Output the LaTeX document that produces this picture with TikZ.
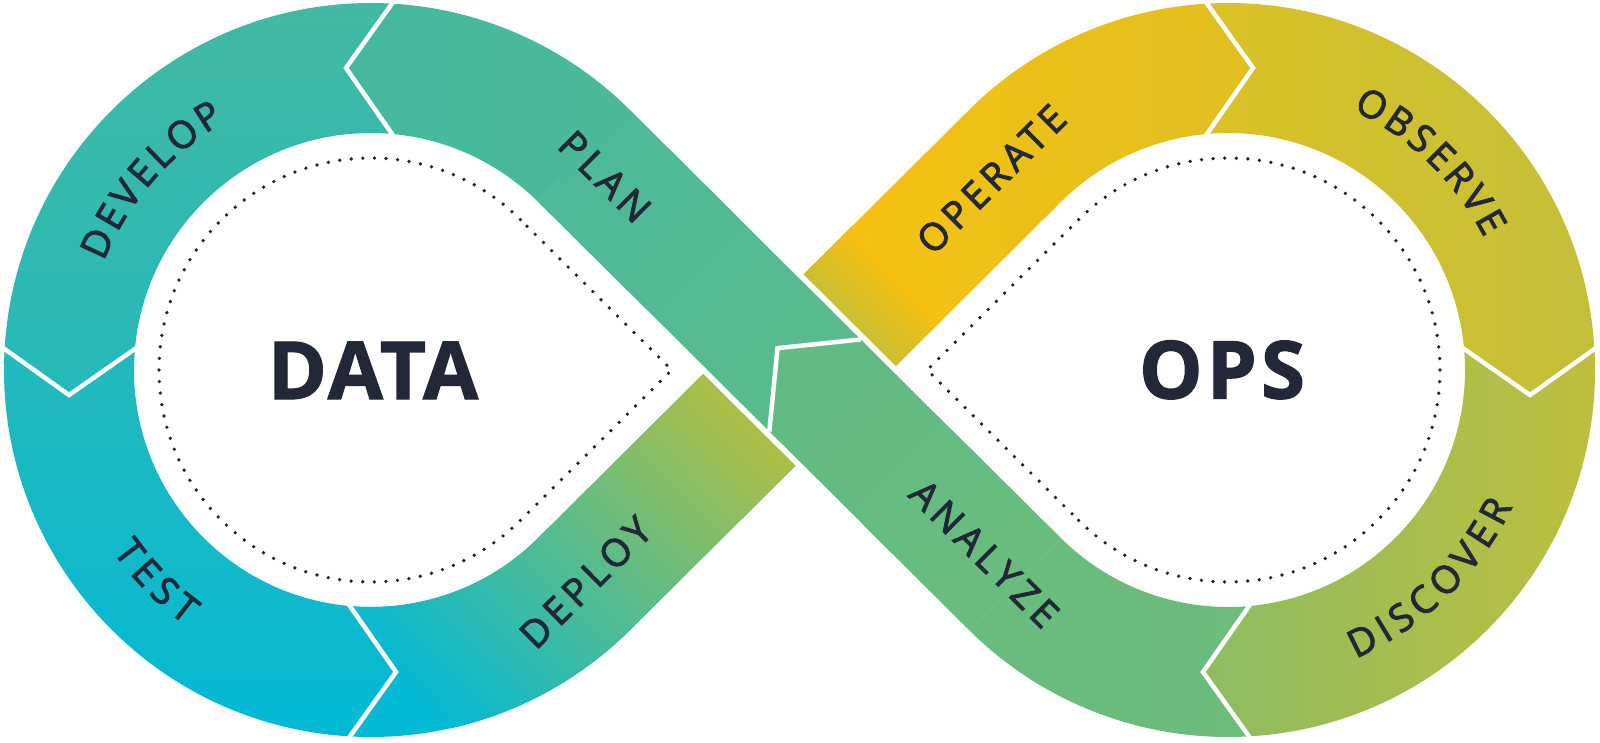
\documentclass[tikz,border=0pt]{standalone}
\usepackage{fontspec}
\setmainfont{Open Sans}
\newfontfamily\lblfont{Open Sans}[FakeBold=2.5,LetterSpace=13.6]
\newfontfamily\arcfont{Open Sans}[FakeBold=2.5]
\newfontfamily\bigfont{Open Sans}[BoldFeatures={FakeBold=1.5},LetterSpace=5]
\newfontfamily\datafont{Open Sans}[BoldFeatures={FakeBold=1.5},LetterSpace=3]
\usetikzlibrary{calc}
\definecolor{ink}{HTML}{232838}
\definecolor{dotc}{HTML}{1E2230}
\definecolor{cPa0}{HTML}{44B9A0}
\definecolor{cPa1}{HTML}{4BB999}
\definecolor{cDv0}{HTML}{43B9A1}
\definecolor{cDv1}{HTML}{24B9BA}
\definecolor{cTs0}{HTML}{23B9BB}
\definecolor{cTs1}{HTML}{02B9D5}
\definecolor{cDep0}{HTML}{03B9D4}
\definecolor{cDep1}{HTML}{B7BF3C}
\definecolor{cOpG}{HTML}{C5BE34}
\definecolor{cOp}{HTML}{F9C00F}
\definecolor{cOp0}{HTML}{FBC10D}
\definecolor{cOp1}{HTML}{F6C011}
\definecolor{cOp2}{HTML}{E0C021}
\definecolor{cObs0}{HTML}{DBC125}
\definecolor{cObs1}{HTML}{C3BF39}
\definecolor{cDis0}{HTML}{8CBD61}
\definecolor{cDis1}{HTML}{C0BE3C}
\definecolor{cAnA0}{HTML}{68BC7E}
\definecolor{cAnA1}{HTML}{6CBC7B}
\definecolor{cPl0}{HTML}{4BB999}
\definecolor{cPl1}{HTML}{5ABB8B}
\definecolor{cAn0}{HTML}{60BB85}
\definecolor{cAn1}{HTML}{69BC7D}
\tikzset{
  lbl/.style={inner sep=0pt, text height=27pt, text depth=0pt, anchor=center, text=ink, font=\lblfont\fontsize{38}{38}\selectfont},
  arcl/.style={inner sep=0pt, text height=27pt, text depth=0pt, anchor=center, text=ink, font=\arcfont\fontsize{38}{38}\selectfont},
  big/.style={inner sep=0pt, text height=57pt, text depth=0pt, anchor=center, text=ink, font=\bigfont\bfseries\fontsize{80}{80}\selectfont},
  bigdata/.style={big, font=\datafont\bfseries\fontsize{80}{80}\selectfont},
  chev/.style={draw=white, line width=4.5pt, line join=miter, shorten <=-3pt, shorten >=-3pt},
  gapline/.style={draw=white, line width=5.5pt},
  dots/.style={draw=dotc, line width=3.7pt, line cap=round, dash pattern=on 0pt off 11.6pt},
}
\begin{document}
\begin{tikzpicture}[x=1pt,y=1pt]
\useasboundingbox (0,0) rectangle (1600,-742);
\fill[white] (0,0) rectangle (1600,-742);
\coordinate (L) at (371,-370);
\coordinate (R) at (1228,-370);
\coordinate (M) at (799.5,-370);
\def\ph{45.188}
\def\RO{367}
\def\RI{237}

% PLAN arc (ends with arrow tip at the top chevron)
\shade[left color=cPa0, right color=cPa1]
  ($(L)+(\ph:\RO)$) arc[start angle=\ph, end angle=86.72, radius=\RO]
  -- ($(L)+(-25,302)$) -- ($(L)+(84.92:\RI)$)
  arc[start angle=84.92, end angle=\ph, radius=\RI] -- cycle;
% DEVELOP
\shade[top color=cDv0, bottom color=cDv1]
  ($(L)+(86.72:\RO)$) arc[start angle=86.72, end angle=176.72, radius=\RO]
  -- ($(L)+(-302,-25)$) -- ($(L)+(174.92:\RI)$)
  arc[start angle=174.92, end angle=84.92, radius=\RI] -- ($(L)+(-25,302)$) -- cycle;
% TEST
\shade[top color=cTs0, bottom color=cTs1]
  ($(L)+(176.72:\RO)$) arc[start angle=176.72, end angle=266.72, radius=\RO]
  -- ($(L)+(25,-302)$) -- ($(L)+(264.92:\RI)$)
  arc[start angle=264.92, end angle=174.92, radius=\RI] -- ($(L)+(-302,-25)$) -- cycle;

% DEPLOY
\begin{scope}
\clip ($(L)+(266.72:\RO)$) arc[start angle=266.72, end angle=314.812, radius=\RO]
  -- (845.31,-416.11) -- (753.69,-323.89)
  -- ($(L)+(314.812:\RI)$) arc[start angle=314.812, end angle=264.92, radius=\RI]
  -- ($(L)+(25,-302)$) -- cycle;
\fill[cDep0] (0,0) rectangle (1600,-742);
\shade[left color=cDep0, right color=cDep1, transform canvas={rotate around={44.812:(M)}}]
  ($(M)+(-500,-250)$) rectangle ($(M)+(-45,250)$);
\end{scope}

% OPERATE (straight part and arc, one piece)
\begin{scope}
\clip (753.69,-323.89) -- ($(R)+(134.812:\RO)$)
  arc[start angle=134.812, end angle=93.28, radius=\RO]
  -- ($(R)+(25,302)$) -- ($(R)+(95.08:\RI)$)
  arc[start angle=95.08, end angle=134.812, radius=\RI] -- (845.31,-416.11) -- cycle;
\shade[left color=cOp0, middle color=cOp1, right color=cOp2] (753,0) rectangle (1254,-420);
\shade[left color=cOpG, right color=cOp, transform canvas={rotate around={44.812:(M)}}]
  ($(M)+(62,-120)$) rectangle ($(M)+(140,120)$);
\end{scope}
% OBSERVE
\shade[left color=cObs0, right color=cObs1]
  ($(R)+(93.28:\RO)$) arc[start angle=93.28, end angle=3.28, radius=\RO]
  -- ($(R)+(302,-25)$) -- ($(R)+(5.08:\RI)$)
  arc[start angle=5.08, end angle=95.08, radius=\RI] -- ($(R)+(25,302)$) -- cycle;
% DISCOVER
\shade[left color=cDis0, right color=cDis1]
  ($(R)+(3.28:\RO)$) arc[start angle=3.28, end angle=-86.72, radius=\RO]
  -- ($(R)+(-25,-302)$) -- ($(R)+(-84.92:\RI)$)
  arc[start angle=-84.92, end angle=5.08, radius=\RI] -- ($(R)+(302,-25)$) -- cycle;
% ANALYZE arc
\shade[left color=cAnA0, right color=cAnA1]
  ($(R)+(-86.72:\RO)$) arc[start angle=-86.72, end angle=-134.812, radius=\RO]
  -- ($(R)+(-134.812:\RI)$) arc[start angle=-134.812, end angle=-84.92, radius=\RI]
  -- ($(R)+(-25,-302)$) -- cycle;

% PLAN straight (on top of the crossing)
\begin{scope}
\clip ($(L)+(\ph:\RO)$) -- (860.92,-339.40) -- (777.51,-348.15) -- (769.30,-431.62) -- ($(L)+(\ph:\RI)$) -- cycle;
\shade[left color=cPl0, right color=cPl1, transform canvas={rotate around={-44.812:(M)}}]
  ($(M)+(-310,-80)$) rectangle ($(M)+(25,80)$);
\end{scope}
% ANALYZE straight
\begin{scope}
\clip (860.92,-339.40) -- ($(R)+(-134.812:\RI)$) -- ($(R)+(-134.812:\RO)$) -- (769.30,-431.62) -- (777.51,-348.15) -- cycle;
\shade[left color=cAn0, right color=cAn1, transform canvas={rotate around={-44.812:(M)}}]
  ($(M)+(-35,-80)$) rectangle ($(M)+(310,80)$);
\end{scope}

% white gaps at the crossing (just outside the crossing band)
\draw[gapline] (740.84,-216.22) -- (953.66,-427.66);
\draw[gapline] (645.34,-312.34) -- (858.16,-523.78);

% chevrons
\draw[chev] ($(L)+(21,366.4)$) -- ($(L)+(-25,302)$) -- ($(L)+(21,236.1)$);
\draw[chev] ($(L)+(-366.4,21)$) -- ($(L)+(-302,-25)$) -- ($(L)+(-236.1,21)$);
\draw[chev] ($(L)+(-21,-366.4)$) -- ($(L)+(25,-302)$) -- ($(L)+(-21,-236.1)$);
\draw[chev] ($(R)+(-21,366.4)$) -- ($(R)+(25,302)$) -- ($(R)+(-21,236.1)$);
\draw[chev] ($(R)+(366.4,21)$) -- ($(R)+(302,-25)$) -- ($(R)+(236.1,21)$);
\draw[chev] ($(R)+(21,-366.4)$) -- ($(R)+(-25,-302)$) -- ($(R)+(21,-236.1)$);
\draw[draw=white, line width=4.5pt, line join=miter] (860.92,-339.40) -- (777.51,-348.15) -- (769.30,-431.62);

% dotted teardrops
\draw[dots] ($(L)+(\ph:212)$) arc[start angle=\ph, end angle=314.812, radius=212] -- (671.8,-370) -- cycle;
\draw[dots] ($(R)+(-134.812:212)$) arc[start angle=-134.812, end angle=134.812, radius=212] -- (927.2,-370) -- cycle;

% centre words
\node[bigdata] (data) at (373,-370.5) {DATA};
\node[big] (ops) at (1222,-370) {OPS};

% straight labels
\node[lbl, rotate=-44.812] (plan) at (604.8,-176.6) {PLAN};
\node[lbl, rotate=-44.812] (analyze) at (984.3,-553.6) {ANALYZE};
\node[lbl, rotate=44.812] (deploy) at (585.6,-582.5) {DEPLOY};
\node[lbl, rotate=44.812] (operate) at (991.4,-179.3) {OPERATE};

% curved labels
\foreach \ch/\o [count=\i] in {D/-15.93,E/-10.29,V/-5.17,E/-0.05,L/4.81,O/10.46,P/16.42}
  \node[arcl, rotate={139.2-\o-90}] (dev\i) at ($(L)+({139.2-\o}:302)$) {\ch};
\foreach \ch/\o [count=\i] in {T/-7.51,E/-2.49,S/2.51,T/7.51}
  \node[arcl, rotate={224.5+\o+90}] (tst\i) at ($(L)+({224.5+\o}:302)$) {\ch};
\foreach \ch/\o [count=\i] in {O/-15.67,B/-9.60,S/-4.30,E/0.70,R/5.92,V/11.27,E/16.41}
  \node[arcl, rotate={45.8-\o-90}] (obs\i) at ($(R)+({45.8-\o}:302)$) {\ch};
\foreach \ch/\o [count=\i] in {D/-17.6,I/-13.0,S/-9.0,C/-3.85,O/2.1,V/7.95,E/13.05,R/18.2}
  \node[arcl, rotate={-46+\o+90}] (dis\i) at ($(R)+({-46+\o}:302)$) {\ch};
\end{tikzpicture}
\end{document}
